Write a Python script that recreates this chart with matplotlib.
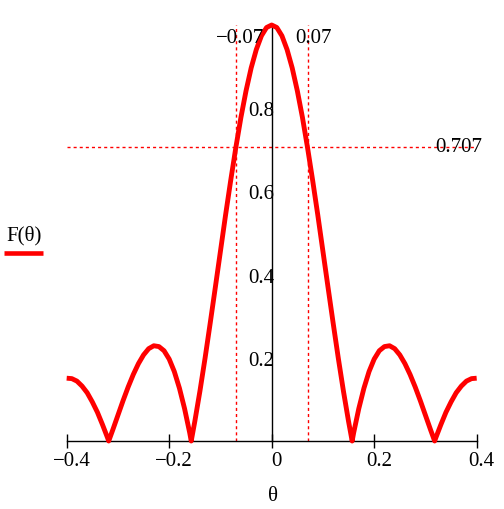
import matplotlib
matplotlib.use("Agg")
import matplotlib.pyplot as plt
from matplotlib.lines import Line2D
from matplotlib.transforms import ScaledTranslation

plt.rcParams['font.family'] = ['Liberation Serif', 'DejaVu Serif']
plt.rcParams['font.size'] = 15

# values
theta = [-0.40, -0.39, -0.38, -0.37, -0.36, -0.35, -0.34, -0.33, -0.32, -0.318,
         -0.31, -0.30, -0.29, -0.28, -0.27, -0.26, -0.25, -0.24, -0.23, -0.22,
         -0.21, -0.20, -0.19, -0.18, -0.17, -0.16, -0.157, -0.15, -0.14, -0.13,
         -0.12, -0.11, -0.10, -0.09, -0.08, -0.07, -0.06, -0.05, -0.04, -0.03,
         -0.02, -0.01, 0.00, 0.01, 0.02, 0.03, 0.04, 0.05, 0.06, 0.07,
         0.08, 0.09, 0.10, 0.11, 0.12, 0.13, 0.14, 0.15, 0.157, 0.16,
         0.17, 0.18, 0.19, 0.20, 0.21, 0.22, 0.23, 0.24, 0.25, 0.26,
         0.27, 0.28, 0.29, 0.30, 0.31, 0.318, 0.32, 0.33, 0.34, 0.35,
         0.36, 0.37, 0.38, 0.39, 0.40]
F = [0.151, 0.150, 0.144, 0.132, 0.116, 0.094, 0.069, 0.039, 0.007, 0.000,
     0.027, 0.062, 0.097, 0.130, 0.160, 0.186, 0.207, 0.222, 0.229, 0.227,
     0.217, 0.197, 0.167, 0.127, 0.078, 0.020, 0.000, 0.047, 0.120, 0.199,
     0.283, 0.369, 0.456, 0.543, 0.626, 0.705, 0.778, 0.842, 0.897, 0.941,
     0.974, 0.994, 1.000, 0.994, 0.974, 0.941, 0.897, 0.842, 0.778, 0.705,
     0.626, 0.543, 0.456, 0.369, 0.283, 0.199, 0.120, 0.047, 0.000, 0.020,
     0.078, 0.127, 0.167, 0.197, 0.217, 0.227, 0.229, 0.222, 0.207, 0.186,
     0.160, 0.130, 0.097, 0.062, 0.027, 0.000, 0.007, 0.039, 0.069, 0.094,
     0.116, 0.132, 0.144, 0.150, 0.151]

xticks = [-0.4, -0.2, 0, 0.2, 0.4]
xtick_labels = ['\u22120.4', '\u22120.2', '0', '0.2', '0.4']
yticks = [0.2, 0.4, 0.6, 0.8]
ytick_labels = ['0.2', '0.4', '0.6', '0.8']
half_power = 0.707
bw_left, bw_right = -0.07, 0.07

fig = plt.figure(figsize=(5.04, 5.10), dpi=100)
ax = fig.add_axes([0.1323, 0.1333, 0.8135, 0.8157])

ax.plot(theta, F, color='red', lw=3.5, clip_on=False, solid_capstyle='butt', zorder=3)

marker_style = dict(color='#ff0000', lw=1.0, dashes=(2.2, 2.2), zorder=1)
ax.axhline(half_power, **marker_style)
ax.axvline(bw_left, **marker_style)
ax.axvline(bw_right, **marker_style)

ax.set_xlim(-0.4, 0.4)
ax.set_ylim(0, 1.0)

for s in ['top', 'right']:
    ax.spines[s].set_visible(False)
ax.spines['left'].set_position(('data', 0))
ax.spines['left'].set_zorder(2)
ax.spines['bottom'].set_linewidth(1)
ax.spines['left'].set_linewidth(1)

ax.set_xticks(xticks)
ax.set_xticklabels(xtick_labels)
ax.set_yticks(yticks)
ax.set_yticklabels(ytick_labels)
ax.tick_params(axis='x', direction='inout', length=10, width=1, pad=2)
ax.tick_params(axis='y', length=0, pad=-2.2)
shift = ScaledTranslation(5 / 100, 0, fig.dpi_scale_trans)
for lab in ax.get_xticklabels():
    lab.set_transform(lab.get_transform() + shift)

# marker labels
ax.text(-0.1087, 0.969, '\u22120.07', ha='left', va='center')
ax.text(0.0455, 0.969, '0.07', ha='left', va='center')
ax.text(0.3186, half_power, '0.707', ha='left', va='center', clip_on=False)

# x label and legend
fig.text(273 / 504, 1 - 497 / 510, '\u03b8', ha='center', va='center')
fig.text(24 / 504, 1 - 236 / 510, 'F(\u03b8)', ha='center', va='center')
fig.add_artist(Line2D([4 / 504, 43 / 504], [1 - 254 / 510, 1 - 254 / 510],
                      color='red', lw=3.3, solid_capstyle='butt'))

fig.savefig('out.png', dpi=100)
